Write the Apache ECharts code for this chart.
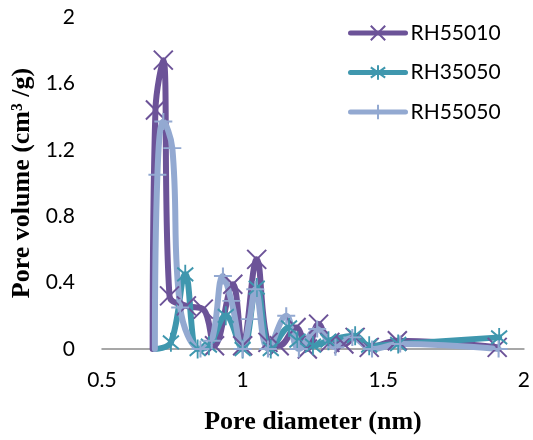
<!DOCTYPE html>
<html>
<head>
<meta charset="utf-8">
<script src="https://cdn.jsdelivr.net/npm/echarts@6/dist/echarts.min.js"></script>
<style>html,body{margin:0;padding:0;background:#fff}#c{width:533px;height:440px}</style>
</head>
<body>
<div id="c"></div>
<script>
// Pore diameter (nm) / pore volume (cm3/g)
const seriesNames = ['RH55010', 'RH35050', 'RH55050'];
const rh55010X = [0.68, 0.69, 0.718, 0.74, 0.80, 0.86, 0.90, 0.965, 1.0, 1.05, 1.09, 1.13, 1.19, 1.23, 1.27, 1.31, 1.36, 1.40, 1.45, 1.55, 1.905];
const rh55010Y = [0, 1.44, 1.74, 0.32, 0.26, 0.24, 0.02, 0.39, 0.02, 0.54, 0.04, 0.02, 0.13, 0.0, 0.15, 0.04, 0.03, 0.07, 0.01, 0.05, 0.01];
const rh35050X = [0.69, 0.745, 0.796, 0.84, 0.88, 0.94, 1.0, 1.05, 1.1, 1.165, 1.195, 1.25, 1.305, 1.4, 1.45, 1.553, 1.912];
const rh35050Y = [0, 0.04, 0.45, 0.0, 0.02, 0.2, 0.0, 0.37, 0.0, 0.13, 0.05, 0.02, 0.05, 0.08, 0.02, 0.03, 0.07];
const rh55050X = [0.688, 0.697, 0.718, 0.75, 0.778, 0.85, 0.89, 0.93, 0.96, 1.0, 1.025, 1.045, 1.09, 1.155, 1.2, 1.265, 1.33, 1.39, 1.46, 1.56, 1.91];
const rh55050Y = [0, 1.05, 1.37, 1.21, 0.25, 0.0, 0.05, 0.44, 0.29, 0.0, 0.18, 0.36, 0.0, 0.2, 0.0, 0.12, 0.01, 0.07, 0.0, 0.03, 0.0];

const colors = ['#6C5398', '#3F97AE', '#93A9D1'];
const symbols = [
  'path://M0,0L10,10M10,0L0,10',
  'path://M0,0L10,10M10,0L0,10M5,-2L5,12',
  'path://M0,5L10,5M5,0L5,10'
];
const symbolSizes = [[19, 19], [16, 19], [18, 17]];

// the starting point of each trace shows no marker in the reference
function pairs(xs, ys) {
  return xs.map((x, i) => i === 0 ? { value: [x, ys[i]], symbol: 'none' } : [x, ys[i]]);
}
const datasets = [pairs(rh55010X, rh55010Y), pairs(rh35050X, rh35050Y), pairs(rh55050X, rh55050Y)];

const chart = echarts.init(document.getElementById('c'));
chart.setOption({
  animation: false,
  backgroundColor: '#fff',
  grid: { left: 102, right: 6, top: 17, bottom: 90, containLabel: false },
  legend: {
    orient: 'vertical',
    left: 343,
    top: 17,
    itemWidth: 55,
    itemHeight: 18,
    itemGap: 17.5,
    lineStyle: { width: 5, cap: 'round' },
    textStyle: { fontFamily: 'Lato', fontSize: 21, color: '#000', lineHeight: 22 },
    data: seriesNames
  },
  xAxis: {
    type: 'value', min: 0.5, max: 2, interval: 0.5,
    axisLine: { show: true, lineStyle: { color: '#8a8a8a', width: 1.5 } },
    axisTick: { show: false },
    splitLine: { show: false },
    axisLabel: { fontFamily: 'Lato', fontSize: 21, color: '#000', margin: 21 },
    name: 'Pore diameter (nm)', nameLocation: 'middle', nameGap: 60,
    nameTextStyle: { fontFamily: 'Liberation Serif', fontWeight: 'bold', fontSize: 26, color: '#000' }
  },
  yAxis: {
    type: 'value', min: 0, max: 2, interval: 0.4,
    axisLine: { show: false },
    axisTick: { show: false },
    splitLine: { show: false },
    axisLabel: { fontFamily: 'Lato', fontSize: 21, color: '#000', margin: 27 },
    name: 'Pore volume (cm³ /g)', nameLocation: 'middle', nameGap: 67,
    nameTextStyle: { fontFamily: 'Liberation Serif', fontWeight: 'bold', fontSize: 26, color: '#000' }
  },
  series: seriesNames.map((n, i) => ({
    name: n,
    type: 'line',
    smooth: 0.4,
    clip: false,
    data: datasets[i],
    symbol: symbols[i],
    symbolSize: symbolSizes[i],
    symbolKeepAspect: false,
    showSymbol: true,
    showAllSymbol: true,
    lineStyle: { color: colors[i], width: 6, cap: 'round', join: 'round' },
    itemStyle: { color: colors[i], borderColor: colors[i], borderWidth: 2 }
  }))
});
</script>
</body>
</html>
